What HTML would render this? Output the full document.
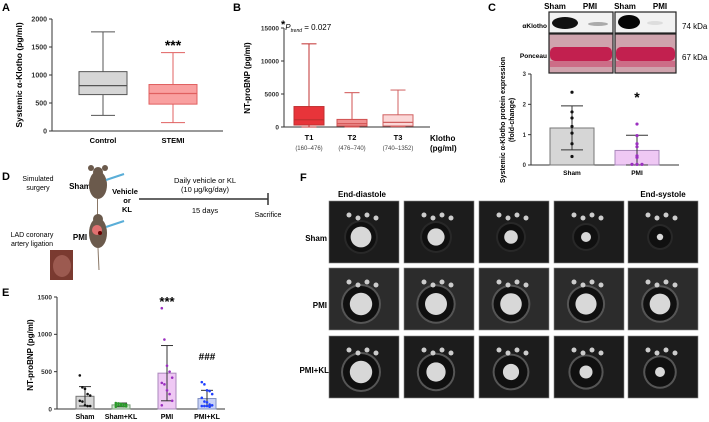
<!DOCTYPE html>
<html><head><meta charset="utf-8"><style>
html,body{margin:0;padding:0;background:#fff;}
svg{display:block;font-family:"Liberation Sans",sans-serif;}
</style></head><body>
<svg id="fig" width="709" height="422" viewBox="0 0 709 422">
<g id="static">
<!-- panel labels -->
<text x="2" y="11" font-size="11" font-weight="bold">A</text>
<text x="233" y="11" font-size="11" font-weight="bold">B</text>
<text x="488" y="11" font-size="11" font-weight="bold">C</text>
<text x="2" y="180" font-size="11" font-weight="bold">D</text>
<text x="2" y="296" font-size="11" font-weight="bold">E</text>
<text x="300" y="181" font-size="11" font-weight="bold">F</text>

<!-- Panel C blot -->
<g>
<text x="555" y="9" font-size="8" font-weight="bold" text-anchor="middle">Sham</text>
<text x="590" y="9" font-size="8" font-weight="bold" text-anchor="middle">PMI</text>
<text x="625" y="9" font-size="8" font-weight="bold" text-anchor="middle">Sham</text>
<text x="660" y="9" font-size="8" font-weight="bold" text-anchor="middle">PMI</text>
<text x="547" y="28" font-size="6.5" font-weight="bold" text-anchor="end">αKlotho</text>
<text x="547" y="58" font-size="6.5" font-weight="bold" text-anchor="end">Ponceau</text>
<text x="682" y="29" font-size="8">74 kDa</text>
<text x="682" y="60" font-size="8">67 kDa</text>
<rect x="549" y="12" width="64" height="21" fill="#f2f2f2" stroke="#222" stroke-width="1.2"/>
<rect x="615" y="12" width="61" height="21" fill="#f2f2f2" stroke="#222" stroke-width="1.2"/>
<ellipse cx="565" cy="23" rx="13" ry="6" fill="#111"/>
<ellipse cx="598" cy="24" rx="10" ry="2" fill="#aaa"/>
<ellipse cx="629" cy="22" rx="11" ry="7" fill="#050505"/>
<ellipse cx="655" cy="23" rx="8" ry="2" fill="#ddd"/>
<rect x="549" y="34" width="64" height="39" fill="#cfa3ad" stroke="#222" stroke-width="1.2"/>
<rect x="615" y="34" width="61" height="39" fill="#cfa3ad" stroke="#222" stroke-width="1.2"/>
<rect x="550" y="47" width="62" height="14" rx="5" fill="#c2204f"/>
<rect x="616" y="47" width="59" height="14" rx="5" fill="#c2204f"/>
<rect x="550" y="61" width="62" height="6" fill="#cc6d87"/>
<rect x="616" y="61" width="59" height="6" fill="#cc6d87"/>
</g>

<!-- Panel D -->
<g>
<text x="38" y="181" font-size="7" text-anchor="middle">Simulated</text>
<text x="38" y="190" font-size="7" text-anchor="middle">surgery</text>
<text x="80" y="189" font-size="8" font-weight="bold" text-anchor="middle">Sham</text>
<g fill="#6b5a4c">
<ellipse cx="98" cy="185" rx="9" ry="14"/><circle cx="98" cy="172" r="5"/>
<ellipse cx="91" cy="168" rx="3" ry="3"/><ellipse cx="105" cy="168" rx="3" ry="3"/>
</g>
<rect x="97" y="199" width="1" height="18" fill="#8a7766"/>
<line x1="106" y1="180" x2="124" y2="174" stroke="#5aaed8" stroke-width="2"/>
<g fill="#6b5a4c">
<ellipse cx="98" cy="233" rx="9" ry="15"/><circle cx="98" cy="219" r="5"/>
</g>
<ellipse cx="97" cy="230" rx="5" ry="5" fill="#e07070"/>
<circle cx="100" cy="233" r="2" fill="#600"/>
<line x1="98" y1="248" x2="99" y2="270" stroke="#8a7766" stroke-width="1"/>
<line x1="106" y1="227" x2="124" y2="221" stroke="#5aaed8" stroke-width="2"/>
<text x="125" y="194" font-size="7.5" font-weight="bold" text-anchor="middle">Vehicle</text>
<text x="127" y="203" font-size="7.5" font-weight="bold" text-anchor="middle">or</text>
<text x="127" y="212" font-size="7.5" font-weight="bold" text-anchor="middle">KL</text>
<line x1="139" y1="199" x2="268" y2="199" stroke="#333" stroke-width="1.5"/>
<line x1="268" y1="193" x2="268" y2="205" stroke="#333" stroke-width="1.5"/>
<text x="205" y="183" font-size="7.5" text-anchor="middle">Daily vehicle or KL</text>
<text x="205" y="192" font-size="7.5" text-anchor="middle">(10 μg/kg/day)</text>
<text x="205" y="213" font-size="7.5" text-anchor="middle">15 days</text>
<text x="268" y="217" font-size="7" text-anchor="middle">Sacrifice</text>
<text x="32" y="237" font-size="7" text-anchor="middle">LAD coronary</text>
<text x="32" y="246" font-size="7" text-anchor="middle">artery ligation</text>
<text x="80" y="240" font-size="8" font-weight="bold" text-anchor="middle">PMI</text>
<rect x="50" y="250" width="23" height="30" fill="#7a3a30"/>
<ellipse cx="62" cy="266" rx="9" ry="11" fill="#9c5a50"/>
</g>

<!-- Panel F labels -->
<text x="362" y="197" font-size="8" font-weight="bold" text-anchor="middle">End-diastole</text>
<text x="663" y="197" font-size="8" font-weight="bold" text-anchor="middle">End-systole</text>
<text x="327" y="241" font-size="8" font-weight="bold" text-anchor="end">Sham</text>
<text x="327" y="308" font-size="8" font-weight="bold" text-anchor="end">PMI</text>
<text x="329" y="373" font-size="8" font-weight="bold" text-anchor="end">PMI+KL</text>
</g>
<g id="dyn"></g>
</svg>
<script>
// Panel A data
const aGroups = ["Control", "STEMI"];
const aMin = [280, 150];
const aQ1 = [650, 480];
const aMed = [810, 670];
const aQ3 = [1060, 830];
const aMax = [1770, 1400];
const aTicks = [0, 500, 1000, 1500, 2000];
// Panel B data
const bGroups = ["T1", "T2", "T3"];
const bRanges = ["(160–476)", "(476–740)", "(740–1352)"];
const bMin = [0, 0, 50];
const bQ1 = [300, 150, 150];
const bMed = [1100, 500, 700];
const bQ3 = [3100, 1150, 1850];
const bMax = [12600, 5200, 5600];
const bTicks = [0, 5000, 10000, 15000];
// Panel C data
const cGroups = ["Sham", "PMI"];
const cMean = [1.22, 0.48];
const cLow = [0.5, 0];
const cHigh = [1.95, 0.98];
const cShamPts = [2.4, 1.75, 1.55, 1.27, 1.05, 0.7, 0.28];
const cPmiPts = [1.35, 0.97, 0.7, 0.6, 0.3, 0.25, 0.02, 0.02, 0.02];
const cTicks = [0, 1, 2, 3];
// Panel E data
const eGroups = ["Sham", "Sham+KL", "PMI", "PMI+KL"];
const eMean = [170, 55, 480, 140];
const eLow = [40, 30, 110, 40];
const eHigh = [300, 80, 850, 250];
const eShamPts = [450, 290, 270, 200, 180, 110, 100, 50, 40, 40];
const eShamKlPts = [80, 75, 70, 65, 60, 55, 50, 45, 40, 35, 30];
const ePmiPts = [1350, 930, 580, 500, 420, 350, 330, 250, 200, 110, 50];
const ePmiKlPts = [360, 330, 250, 240, 200, 150, 100, 90, 60, 50, 40, 40, 40, 30];
const eTicks = [0, 500, 1000, 1500];

const NS = "http://www.w3.org/2000/svg";
const dyn = document.getElementById("dyn");
function mk(tag, at, txt) {
  const e = document.createElementNS(NS, tag);
  for (const k in at) e.setAttribute(k, at[k]);
  if (txt !== undefined) e.textContent = txt;
  dyn.appendChild(e);
  return e;
}
function lin(d0, d1, r0, r1) { return v => r0 + (v - d0) / (d1 - d0) * (r1 - r0); }

function axes(x0, x1, y, ticks, fs, prefix) {
  let e = mk("line", {x1: x0, y1: y(ticks[0]), x2: x0, y2: y(ticks[ticks.length-1]), stroke: "#333", "stroke-width": 1});
  
  
  e = mk("line", {x1: x0, y1: y(ticks[0]), x2: x1, y2: y(ticks[0]), stroke: "#333", "stroke-width": 1});
  
  
  ticks.forEach(t => {
    mk("line", {x1: x0 - 3, y1: y(t), x2: x0, y2: y(t), stroke: "#333"});
    e = mk("text", {x: x0 - 5, y: y(t) + fs * 0.35, "font-size": fs, "font-weight": "bold", "text-anchor": "end", fill: "#333"}, String(t));
    
    
  });
}
function ytitle(x, y, txt, fs, name) {
  const e = mk("text", {x: 0, y: 0, transform: `translate(${x},${y}) rotate(-90)`, "font-size": fs, "font-weight": "bold", "text-anchor": "middle"}, txt);
  
  
  return e;
}
function box(cx, w, y, mn, q1, md, q3, mx, fill, stroke, name) {
  mk("line", {x1: cx, y1: y(mx), x2: cx, y2: y(q3), stroke: stroke, "stroke-width": 1});
  mk("line", {x1: cx, y1: y(q1), x2: cx, y2: y(mn), stroke: stroke, "stroke-width": 1});
  mk("line", {x1: cx - w/4, y1: y(mx), x2: cx + w/4, y2: y(mx), stroke: stroke});
  mk("line", {x1: cx - w/4, y1: y(mn), x2: cx + w/4, y2: y(mn), stroke: stroke});
  const r = mk("rect", {x: cx - w/2, y: y(q3), width: w, height: y(q1) - y(q3), fill: fill, stroke: stroke, "stroke-width": 1});
  
  
  mk("line", {x1: cx - w/2, y1: y(md), x2: cx + w/2, y2: y(md), stroke: stroke, "stroke-width": 1.2});
}

// ---- Panel A
const yA = lin(0, 2000, 131, 19);
axes(52, 223, yA, aTicks, 7, "a");
ytitle(22, 75, "Systemic α-Klotho (pg/ml)", 8.5, "a-y-axis-title");
const aX = [103, 173], aFill = ["#d6d6d6", "#f9a0a0"], aStroke = ["#555", "#e06060"];
aGroups.forEach((g, i) => {
  box(aX[i], 48, yA, aMin[i], aQ1[i], aMed[i], aQ3[i], aMax[i], aFill[i], aStroke[i], "a-box-" + g.toLowerCase());
  const t = mk("text", {x: aX[i], y: 143, "font-size": 7.5, "font-weight": "bold", "text-anchor": "middle"}, g);
  
  
});
let s = mk("text", {x: 173, y: 50, "font-size": 14, "font-weight": "bold", "text-anchor": "middle"}, "***");



// ---- Panel B
const yB = lin(0, 15000, 127, 28);
axes(284, 430, yB, bTicks, 6.5, "b");
ytitle(250, 78, "NT-proBNP (pg/ml)", 8, "b-y-axis-title");
const bX = [309, 352, 398], bFill = ["#e8343a", "#f09090", "#fbd8d8"], bStroke = ["#c03030", "#d05050", "#d06060"];
bGroups.forEach((g, i) => {
  box(bX[i], 30, yB, bMin[i], bQ1[i], bMed[i], bQ3[i], bMax[i], bFill[i], bStroke[i], "b-box-" + g.toLowerCase());
  let t = mk("text", {x: bX[i], y: 140, "font-size": 7.5, "font-weight": "bold", "text-anchor": "middle"}, g);
  
  
  t = mk("text", {x: bX[i], y: 150, "font-size": 6, "text-anchor": "middle", fill: "#444"}, bRanges[i]);
  
  
});
s = mk("text", {x: 430, y: 141, "font-size": 8, "font-weight": "bold"}, "Klotho");


s = mk("text", {x: 430, y: 151, "font-size": 8, "font-weight": "bold"}, "(pg/ml)");


s = mk("text", {x: 281, y: 30, "font-size": 8}, "");
s.innerHTML = '<tspan font-size="11" font-weight="bold" dy="-2">*</tspan><tspan font-style="italic" dy="2">P</tspan><tspan font-size="5" font-style="italic" dy="2">trend</tspan><tspan dy="-2"> = 0.027</tspan>';



// ---- Panel C chart
const yC = lin(0, 3, 165, 74);
axes(531, 679, yC, cTicks, 6, "c");
ytitle(505, 120, "Systemic α-Klotho protein expression", 7, "c-y-axis-title");
ytitle(514, 120, "(fold-change)", 7, "c-y-axis-title-2");
const cX = [572, 637], cFill = ["#d6d6d6", "#efc8f4"], cStroke = ["#777", "#aa88bb"], cPtCol = ["#111", "#9b30c0"], cPts = [cShamPts, cPmiPts];
cGroups.forEach((g, i) => {
  const r = mk("rect", {x: cX[i] - 22, y: yC(cMean[i]), width: 44, height: yC(0) - yC(cMean[i]), fill: cFill[i], stroke: cStroke[i]});
  
  
  mk("line", {x1: cX[i], y1: yC(cHigh[i]), x2: cX[i], y2: yC(cLow[i]), stroke: "#333"});
  mk("line", {x1: cX[i] - 11, y1: yC(cHigh[i]), x2: cX[i] + 11, y2: yC(cHigh[i]), stroke: "#333"});
  mk("line", {x1: cX[i] - 11, y1: yC(cLow[i]), x2: cX[i] + 11, y2: yC(cLow[i]), stroke: "#333"});
  cPts[i].forEach((v, j) => {
    const off = cPts[i].length > 7 && v < 0.1 ? (j - 7) * 5 : 0;
    const p = mk("circle", {cx: cX[i] + off, cy: yC(v), r: 1.6, fill: cPtCol[i]});
    
    
  });
  const t = mk("text", {x: cX[i], y: 175, "font-size": 6.5, "font-weight": "bold", "text-anchor": "middle"}, g);
  
  
});
s = mk("text", {x: 637, y: 102, "font-size": 14, "font-weight": "bold", "text-anchor": "middle"}, "*");



// ---- Panel E
const yE = lin(0, 1500, 409, 297);
axes(57, 225, yE, eTicks, 6.5, "e");
ytitle(33, 355, "NT-proBNP (pg/ml)", 8, "e-y-axis-title");
const eX = [85, 121, 167, 207], eFill = ["#d6d6d6", "#cfe8cf", "#efc8f4", "#c8d2f8"], eStroke = ["#777", "#7a9a7a", "#aa88bb", "#8090c0"];
const ePtCol = ["#111", "#2a9a2a", "#9b30c0", "#2040ff"], ePts = [eShamPts, eShamKlPts, ePmiPts, ePmiKlPts];
eGroups.forEach((g, i) => {
  const r = mk("rect", {x: eX[i] - 9, y: yE(eMean[i]), width: 18, height: yE(0) - yE(eMean[i]), fill: eFill[i], stroke: eStroke[i]});
  
  
  mk("line", {x1: eX[i], y1: yE(eHigh[i]), x2: eX[i], y2: yE(eLow[i]), stroke: "#333"});
  mk("line", {x1: eX[i] - 6, y1: yE(eHigh[i]), x2: eX[i] + 6, y2: yE(eHigh[i]), stroke: "#333"});
  mk("line", {x1: eX[i] - 6, y1: yE(eLow[i]), x2: eX[i] + 6, y2: yE(eLow[i]), stroke: "#333"});
  ePts[i].forEach((v, j) => {
    const off = ((j % 5) - 2) * 2.6;
    const p = mk("circle", {cx: eX[i] + off, cy: yE(v), r: 1.3, fill: ePtCol[i]});
    
    
  });
  const t = mk("text", {x: eX[i], y: 419, "font-size": 7, "font-weight": "bold", "text-anchor": "middle"}, g);
  
  
});
s = mk("text", {x: 167, y: 306, "font-size": 13, "font-weight": "bold", "text-anchor": "middle"}, "***");


s = mk("text", {x: 207, y: 360, "font-size": 10, "font-weight": "bold", "text-anchor": "middle"}, "###");



// ---- Panel F MRI tiles
const fCols = [329, 404, 479, 554, 628], fRows = [201, 268, 336], fRowNames = ["sham", "pmi", "pmi-kl"];
const fTileW = 70, fTileH = 62;
fRows.forEach((ry, ri) => {
  fCols.forEach((cx, ci) => {
    const r = mk("rect", {x: cx, y: ry, width: fTileW, height: fTileH, fill: ri === 1 ? "#2c2c2c" : "#1c1c1c", stroke: "#888", "stroke-width": 0.6});
    
    
    const mx = cx + 32, my = ry + 36;
    const ring = ri === 0 ? 13 - ci : 16 - ci * (ri === 2 ? 0.8 : 0.3);
    mk("circle", {cx: mx, cy: my, r: ring + 4, fill: ri === 0 ? "#282828" : "#555"});
    mk("circle", {cx: mx, cy: my, r: ring + 2, fill: "#101010"});
    mk("circle", {cx: mx, cy: my, r: Math.max(ring * (ri === 0 ? 0.8 : 0.7) - ci * (ri === 1 ? 0 : 1), 3), fill: "#d8d8d8"});
    for (let k = 0; k < 4; k++) mk("circle", {cx: cx + 20 + k * 9, cy: ry + 14 + (k % 2) * 3, r: 2.5, fill: "#ccc"});
  });
});
</script>
</body></html>
